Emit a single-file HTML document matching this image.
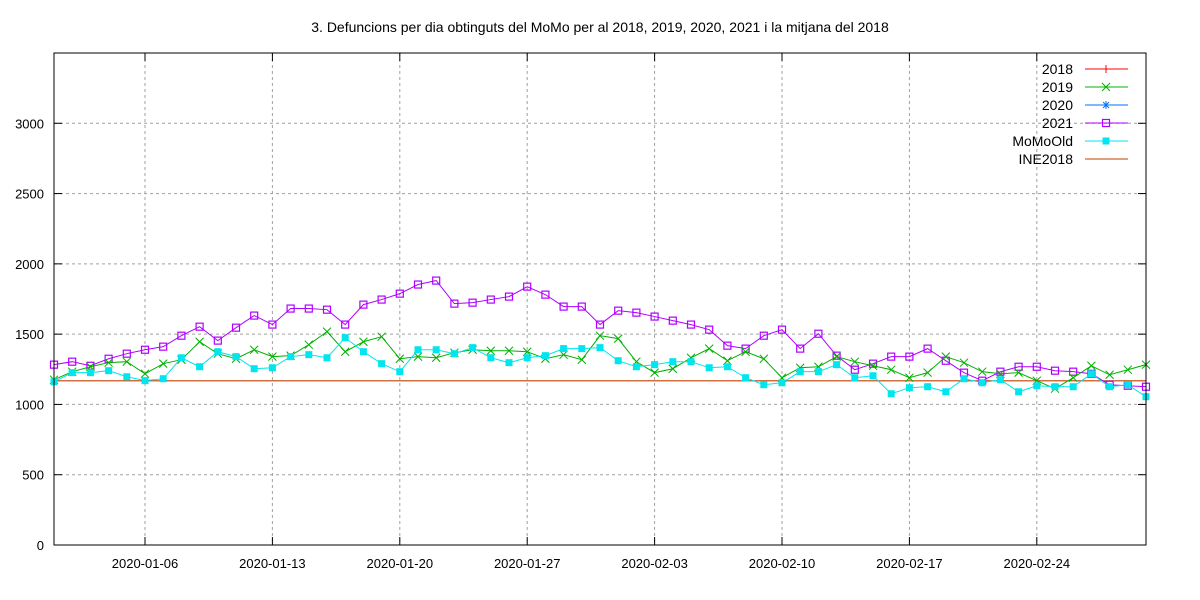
<!DOCTYPE html>
<html><head><meta charset="utf-8"><style>
body{margin:0;background:#fff}
svg{display:block;font-family:"Liberation Sans",sans-serif}
</style></head><body>
<svg id="chart" width="1200" height="600" xmlns="http://www.w3.org/2000/svg">
<rect width="1200" height="600" fill="#fff"/>
<text x="600" y="32" text-anchor="middle" font-size="14">3. Defuncions per dia obtinguts del MoMo per al 2018, 2019, 2020, 2021 i la mitjana del 2018</text>
<g id="grid"></g><g id="axes"></g><g id="series"></g><g id="legend"></g>
<rect x="54" y="53" width="1092" height="492" fill="none" stroke="#000" stroke-width="1"/>
</svg>
<script>
const yTicks=[0,500,1000,1500,2000,2500,3000];
const xTickDays=[5,12,19,26,33,40,47,54];
const xTickLabels=["2020-01-06","2020-01-13","2020-01-20","2020-01-27","2020-02-03","2020-02-10","2020-02-17","2020-02-24"];
const s2021=[1283,1304,1275,1325,1361,1389,1411,1489,1553,1454,1546,1632,1568,1682,1682,1674,1568,1710,1746,1788,1853,1881,1717,1724,1746,1767,1838,1781,1696,1696,1568,1667,1653,1625,1596,1568,1532,1418,1397,1489,1532,1397,1503,1347,1247,1290,1340,1340,1397,1311,1226,1169,1233,1268,1268,1240,1233,1218,1140,1133,1126];
const s2019=[1176,1233,1268,1297,1304,1218,1290,1318,1446,1361,1325,1389,1340,1347,1425,1518,1375,1446,1482,1325,1340,1332,1368,1389,1382,1382,1375,1325,1354,1318,1489,1468,1304,1226,1254,1332,1397,1311,1375,1325,1190,1261,1268,1340,1304,1275,1247,1190,1226,1340,1297,1233,1218,1226,1169,1112,1190,1275,1211,1247,1283];
const sMoMo=[1161,1226,1226,1240,1197,1169,1183,1332,1268,1375,1340,1254,1261,1340,1354,1332,1475,1375,1290,1233,1389,1389,1361,1404,1332,1297,1332,1347,1397,1397,1404,1311,1268,1283,1304,1304,1261,1268,1190,1140,1154,1233,1233,1283,1190,1204,1076,1119,1126,1090,1183,1154,1176,1090,1133,1126,1126,1218,1126,1140,1055];
const ine2018=[1168];
const X0=54,X1=1146,Y0=545,Y1=53,DAYS=60,YMAX=3500;
const xs=d=>X0+(X1-X0)*d/DAYS, ys=v=>Y0-(Y0-Y1)*v/YMAX;
const NS="http://www.w3.org/2000/svg";
function mk(tag,attrs,parent){const e=document.createElementNS(NS,tag);for(const k in attrs)e.setAttribute(k,attrs[k]);parent.appendChild(e);return e;}
const grid=document.getElementById('grid'),axes=document.getElementById('axes'),ser=document.getElementById('series'),leg=document.getElementById('legend');
yTicks.forEach(t=>{const y=ys(t);
 if(t>0){const g=mk('line',{x1:X0,x2:X1,y1:y,y2:y,stroke:'#a0a0a0','stroke-dasharray':'3,3'},grid);
 }
 mk('line',{x1:X0,x2:X0+8,y1:y,y2:y,stroke:'#000'},axes);mk('line',{x1:X1-8,x2:X1,y1:y,y2:y,stroke:'#000'},axes);
 const tx=mk('text',{x:44,y:y+5,'text-anchor':'end','font-size':'13'},axes);tx.textContent=t;
 });
xTickDays.forEach((d,i)=>{const x=xs(d);
 const g=mk('line',{x1:x,x2:x,y1:Y1,y2:Y0,stroke:'#a0a0a0','stroke-dasharray':'3,3'},grid);
 
 mk('line',{x1:x,x2:x,y1:Y0,y2:Y0-8,stroke:'#000'},axes);mk('line',{x1:x,x2:x,y1:Y1,y2:Y1+8,stroke:'#000'},axes);
 const tx=mk('text',{x:x,y:568,'text-anchor':'middle','font-size':'13'},axes);tx.textContent=xTickLabels[i];
 });
const ine=mk('line',{x1:X0,x2:X1,y1:ys(ine2018[0]),y2:ys(ine2018[0]),stroke:'#c04000','stroke-width':1.2},ser);

function line(arr,color,name){const p=mk('polyline',{points:arr.map((v,i)=>xs(i)+','+ys(v)).join(' '),fill:'none',stroke:color,'stroke-width':1},ser);
 }
function marker(kind,x,y,color,g){
 if(kind==='sq')mk('rect',{x:x-3.5,y:y-3.5,width:7,height:7,fill:'none',stroke:color,'stroke-width':1.2},g);
 else if(kind==='fsq')mk('rect',{x:x-3.5,y:y-3.5,width:7,height:7,fill:color},g);
 else if(kind==='x'){mk('line',{x1:x-4,y1:y-4,x2:x+4,y2:y+4,stroke:color},g);mk('line',{x1:x-4,y1:y+4,x2:x+4,y2:y-4,stroke:color},g);}
 else if(kind==='+'){mk('line',{x1:x-4,y1:y,x2:x+4,y2:y,stroke:color},g);mk('line',{x1:x,y1:y-4,x2:x,y2:y+4,stroke:color},g);}
 else if(kind==='*'){mk('line',{x1:x-3,y1:y-3,x2:x+3,y2:y+3,stroke:color},g);mk('line',{x1:x-3,y1:y+3,x2:x+3,y2:y-3,stroke:color},g);mk('line',{x1:x-4,y1:y,x2:x+4,y2:y,stroke:color},g);mk('line',{x1:x,y1:y-4,x2:x,y2:y+4,stroke:color},g);}
}
function points(arr,kind,color,name){const g=mk('g',{},ser);
 arr.forEach((v,i)=>marker(kind,xs(i),ys(v),color,g));}
line(s2021,'#b000ff','series-2021-line');points(s2021,'sq','#b000ff','series-2021-markers');
line(s2019,'#00b000','series-2019-line');points(s2019,'x','#00b000','series-2019-markers');
line(sMoMo,'#00e5ee','series-momoold-line');points(sMoMo,'fsq','#00e5ee','series-momoold-markers');
const legItems=[["2018","#ff0000","+"],["2019","#00b000","x"],["2020","#0070ff","*"],["2021","#b000ff","sq"],["MoMoOld","#00e5ee","fsq"],["INE2018","#c04000",""]];
legItems.forEach((it,i)=>{const y=69+18*i;const g=mk('g',{},leg);
 
 const t=mk('text',{x:1073,y:y+5,'text-anchor':'end','font-size':'14'},g);t.textContent=it[0];
 mk('line',{x1:1085,x2:1128,y1:y,y2:y,stroke:it[1],'stroke-width':1},g);
 if(it[2])marker(it[2],1106,y,it[1],g);});
</script>
</body></html>
